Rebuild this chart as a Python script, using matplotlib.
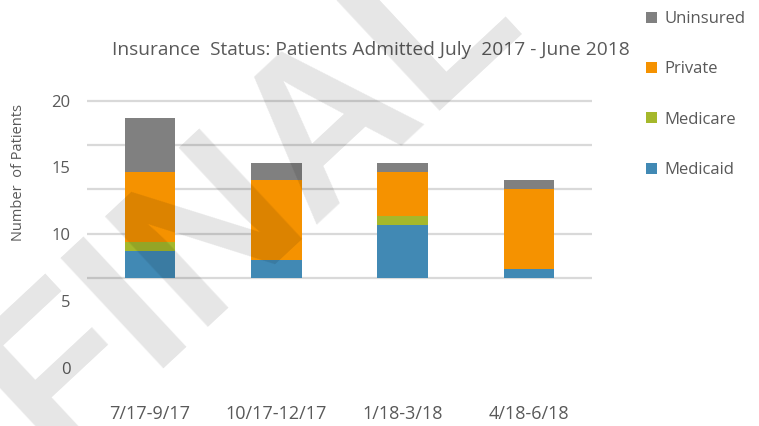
import matplotlib
matplotlib.use("Agg")
import numpy as np
import matplotlib.pyplot as plt
from matplotlib.patches import Patch

plt.rcParams['font.family'] = ['Open Sans', 'DejaVu Sans']

# data
periods   = ["7/17-9/17", "10/17-12/17", "1/18-3/18", "4/18-6/18"]
medicaid  = [3, 2, 6, 1]
medicare  = [1, 0, 1, 0]
private   = [8, 9, 5, 9]
uninsured = [6, 2, 1, 1]

seriesNames = ["Medicaid", "Medicare", "Private", "Uninsured"]
colorList   = ["#4189B4", "#A5B82B", "#F59200", "#808080"]

gridValues = [0, 5, 10, 15, 20]
# the original's axis labels do not sit on its gridlines
yLabelPos  = [-10.2, -2.6, 5, 12.5, 20]
yLabels    = ["0", "5", "10", "15", "20"]

textColor = "#595959"

fig = plt.figure(figsize = (7.59, 4.26), dpi = 100)
ax  = fig.add_axes([0.1146, 0.0873, 0.6653, 0.687])

x = np.arange(len(periods))
bottom = np.zeros(len(periods))
for vals, name, col in zip([medicaid, medicare, private, uninsured], seriesNames, colorList):
    ax.bar(x, vals, width = 0.4, bottom = bottom, color = col, zorder = 2, label = name)
    bottom += np.array(vals)

for g in gridValues:
    ax.axhline(g, color = "#D9D9D9", lw = 1.6, zorder = 1)

ax.set_xlim(-0.5, 3.5)
ax.set_ylim(-12.5, 20.5)
ax.set_xticks(x)
ax.set_xticklabels(periods, fontsize = 13)
ax.set_yticks(yLabelPos)
ax.set_yticklabels(yLabels, fontsize = 12)
ax.tick_params(axis = 'both', length = 0, colors = textColor)
ax.tick_params(axis = 'y', pad = 12)
ax.tick_params(axis = 'x', pad = 11.5)
for s in ax.spines.values():
    s.set_visible(False)

fig.text(371 / 759, 1 - 50 / 426, "Insurance  Status: Patients Admitted July  2017 - June 2018",
         ha = 'center', va = 'center', fontsize = 13.8, color = textColor)
fig.text(19 / 759, 1 - 172 / 426, "Number  of Patients", rotation = 90,
         ha = 'center', va = 'center', fontsize = 10.5, color = textColor)

handles = [Patch(facecolor = c) for c in colorList][::-1]
fig.legend(handles, seriesNames[::-1], loc = 'upper left', bbox_to_anchor = (646 / 759, 1 - 11 / 426),
           frameon = False, fontsize = 12, labelcolor = textColor, labelspacing = 2.06,
           handlelength = 0.65, handleheight = 0.65, handletextpad = 0.45,
           borderpad = 0, borderaxespad = 0)

# watermark
fig.text(52 / 759, -34 / 426, "FINAL", fontsize = 158, fontweight = 'bold', family = 'Liberation Sans',
         color = 'black', alpha = 0.1, rotation = 43, ha = 'left', va = 'baseline',
         rotation_mode = 'anchor', zorder = 10)

fig.savefig("out.png", dpi = 100)
